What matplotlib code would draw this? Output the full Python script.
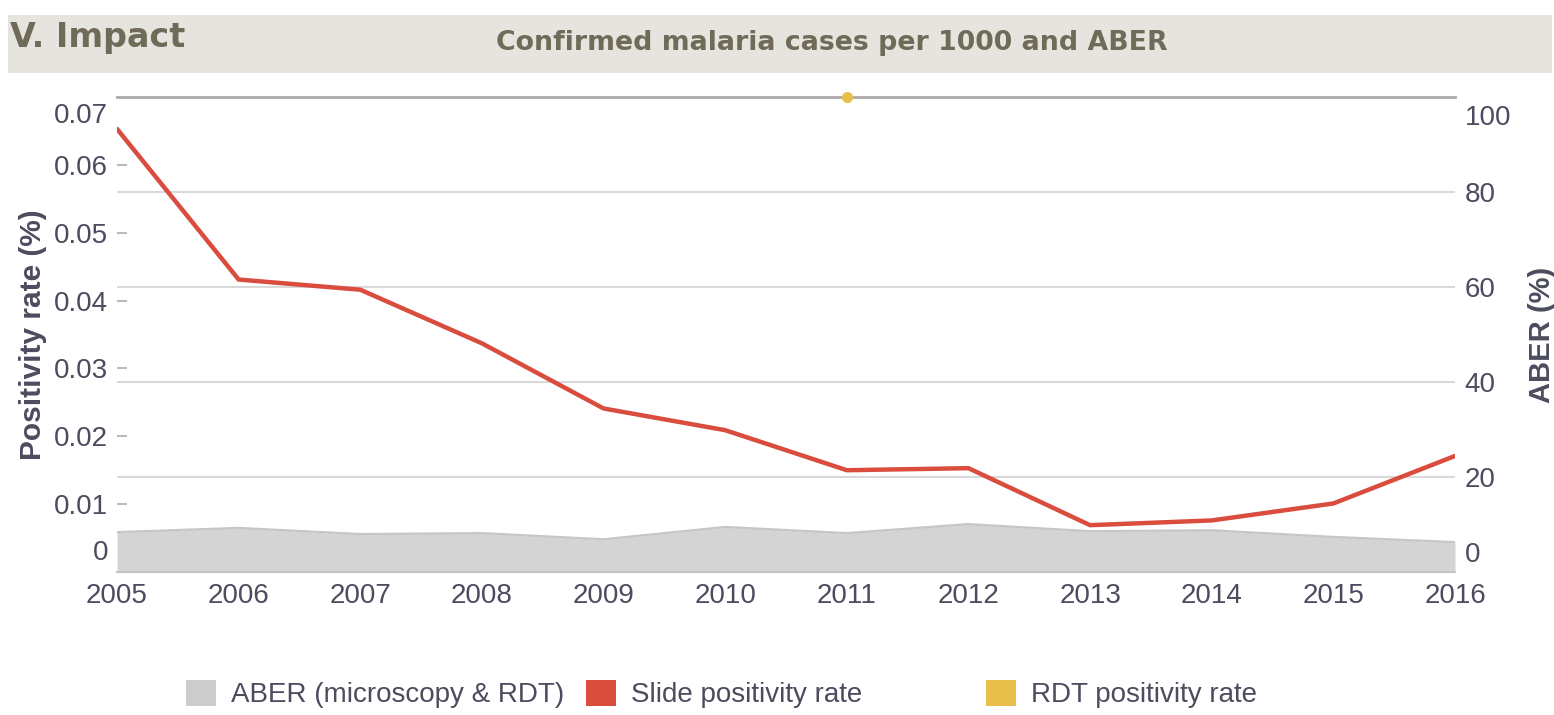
import numpy as np
import matplotlib.pyplot as plt
from matplotlib.patches import Patch, Rectangle

plt.rcParams['font.family'] = ['Liberation Sans', 'DejaVu Sans']

# data
years = [2005, 2006, 2007, 2008, 2009, 2010, 2011, 2012, 2013, 2014, 2015, 2016]
slide_pos = [0.0653, 0.0431, 0.0416, 0.0337, 0.0241, 0.0209, 0.0150, 0.0153, 0.0069, 0.0076, 0.0101, 0.0171]
aber = [8.4, 9.3, 8.0, 8.2, 6.9, 9.5, 8.2, 10.1, 8.6, 8.8, 7.4, 6.3]
rdt_pos = [np.nan] * 6 + [0.07] + [np.nan] * 5

left_ticks = [0.01, 0.02, 0.03, 0.04, 0.05, 0.06]
right_ticks = [20, 40, 60, 80]

TXT = "#4b4c5e"
HEAD = "#6f6b58"
RED = "#d94c3e"
GREY = "#d4d4d4"
YEL = "#e8bf4a"

W, H = 1554, 715
fig = plt.figure(figsize=(W / 100, H / 100), dpi=100)

# header band
fig.patches.append(Rectangle((8 / W, 1 - 73 / H), 1544 / W, 58 / H,
                             transform=fig.transFigure, facecolor="#e5e4df",
                             edgecolor="none", zorder=0))
fig.text(10 / W, 1 - 38 / H, "V. Impact", fontsize=24, fontweight="bold",
         color=HEAD, va="center", ha="left", family="DejaVu Sans")
fig.text(832 / W, 1 - 43 / H, "Confirmed malaria cases per 1000 and ABER",
         fontsize=19.3, fontweight="bold", color=HEAD, va="center", ha="center",
         family="DejaVu Sans")

ax = fig.add_axes([117 / W, 0.2, (1455 - 117) / W, 1 - 97 / H - 0.2])
ax2 = ax.twinx()

# ABER area on right axis, behind the line
ax2.fill_between(years, 0, aber, color=GREY, linewidth=0)
ax2.plot(years, aber, color="#c6c6c6", lw=1.5)
ax2.set_ylim(0, 100)
ax2.set_yticks(right_ticks)
ax2.tick_params(axis="y", length=0, pad=7, labelsize=20, labelcolor=TXT)
ax2.grid(axis="y", color="#d9d9d9", lw=1.5)
ax2.set_axisbelow(True)
ax2.set_ylabel("ABER (%)", fontsize=21, fontweight="bold", color=TXT, labelpad=23)
for v, dy in [(0, 17), (100, -21)]:
    ax2.annotate(str(v), xy=(1, v), xycoords=ax2.get_yaxis_transform(),
                 xytext=(7, dy * 0.72), textcoords="offset points",
                 ha="left", va="center", fontsize=20, color=TXT)

ax.set_zorder(ax2.get_zorder() + 1)
ax.patch.set_visible(False)
ax.plot(years, slide_pos, color=RED, lw=3.2, solid_capstyle="round")
ax.plot(years, rdt_pos, "o", color=YEL, ms=7, clip_on=False)
ax.set_xlim(2005, 2016)
ax.set_ylim(0, 0.07)
ax.set_yticks(left_ticks)
ax.set_yticklabels([f"{t:g}" for t in left_ticks])
ax.set_xticks(years)
ax.tick_params(axis="y", direction="in", length=7, width=1.5, color="#bbbbbb",
               pad=6.5, labelsize=20, labelcolor=TXT)
ax.tick_params(axis="x", length=0, pad=8, labelsize=20, labelcolor=TXT)
ax.set_ylabel("Positivity rate (%)", fontsize=21.5, fontweight="bold", color=TXT, labelpad=5)
for v, lab, dy in [(0, "0", 19), (0.07, "0.07", -19)]:
    ax.annotate(lab, xy=(0, v), xycoords=ax.get_yaxis_transform(),
                xytext=(-6.5, dy * 0.72), textcoords="offset points",
                ha="right", va="center", fontsize=20, color=TXT)

for a in (ax, ax2):
    for s in ("left", "right", "top", "bottom"):
        a.spines[s].set_visible(False)
ax2.spines["top"].set_visible(True)
ax2.spines["top"].set_color("#aaaaaa")
ax2.spines["top"].set_linewidth(2)
ax2.spines["bottom"].set_visible(True)
ax2.spines["bottom"].set_color("#c4c4c4")
ax2.spines["bottom"].set_linewidth(1.5)

# legend: three separately placed items (fixed item width)
items = [("ABER (microscopy & RDT)", "#cccccc", 186),
         ("Slide positivity rate", RED, 586),
         ("RDT positivity rate", YEL, 986)]
for lab, col, x0 in items:
    fig.legend(handles=[Patch(facecolor=col, edgecolor="none", label=lab)],
               loc="center left", bbox_to_anchor=(x0 / W, 1 - 694 / H),
               frameon=False, fontsize=20, labelcolor=TXT,
               handlelength=1.08, handleheight=1.08, handletextpad=0.54,
               borderpad=0, borderaxespad=0)

fig.savefig("out.png", dpi=100)
